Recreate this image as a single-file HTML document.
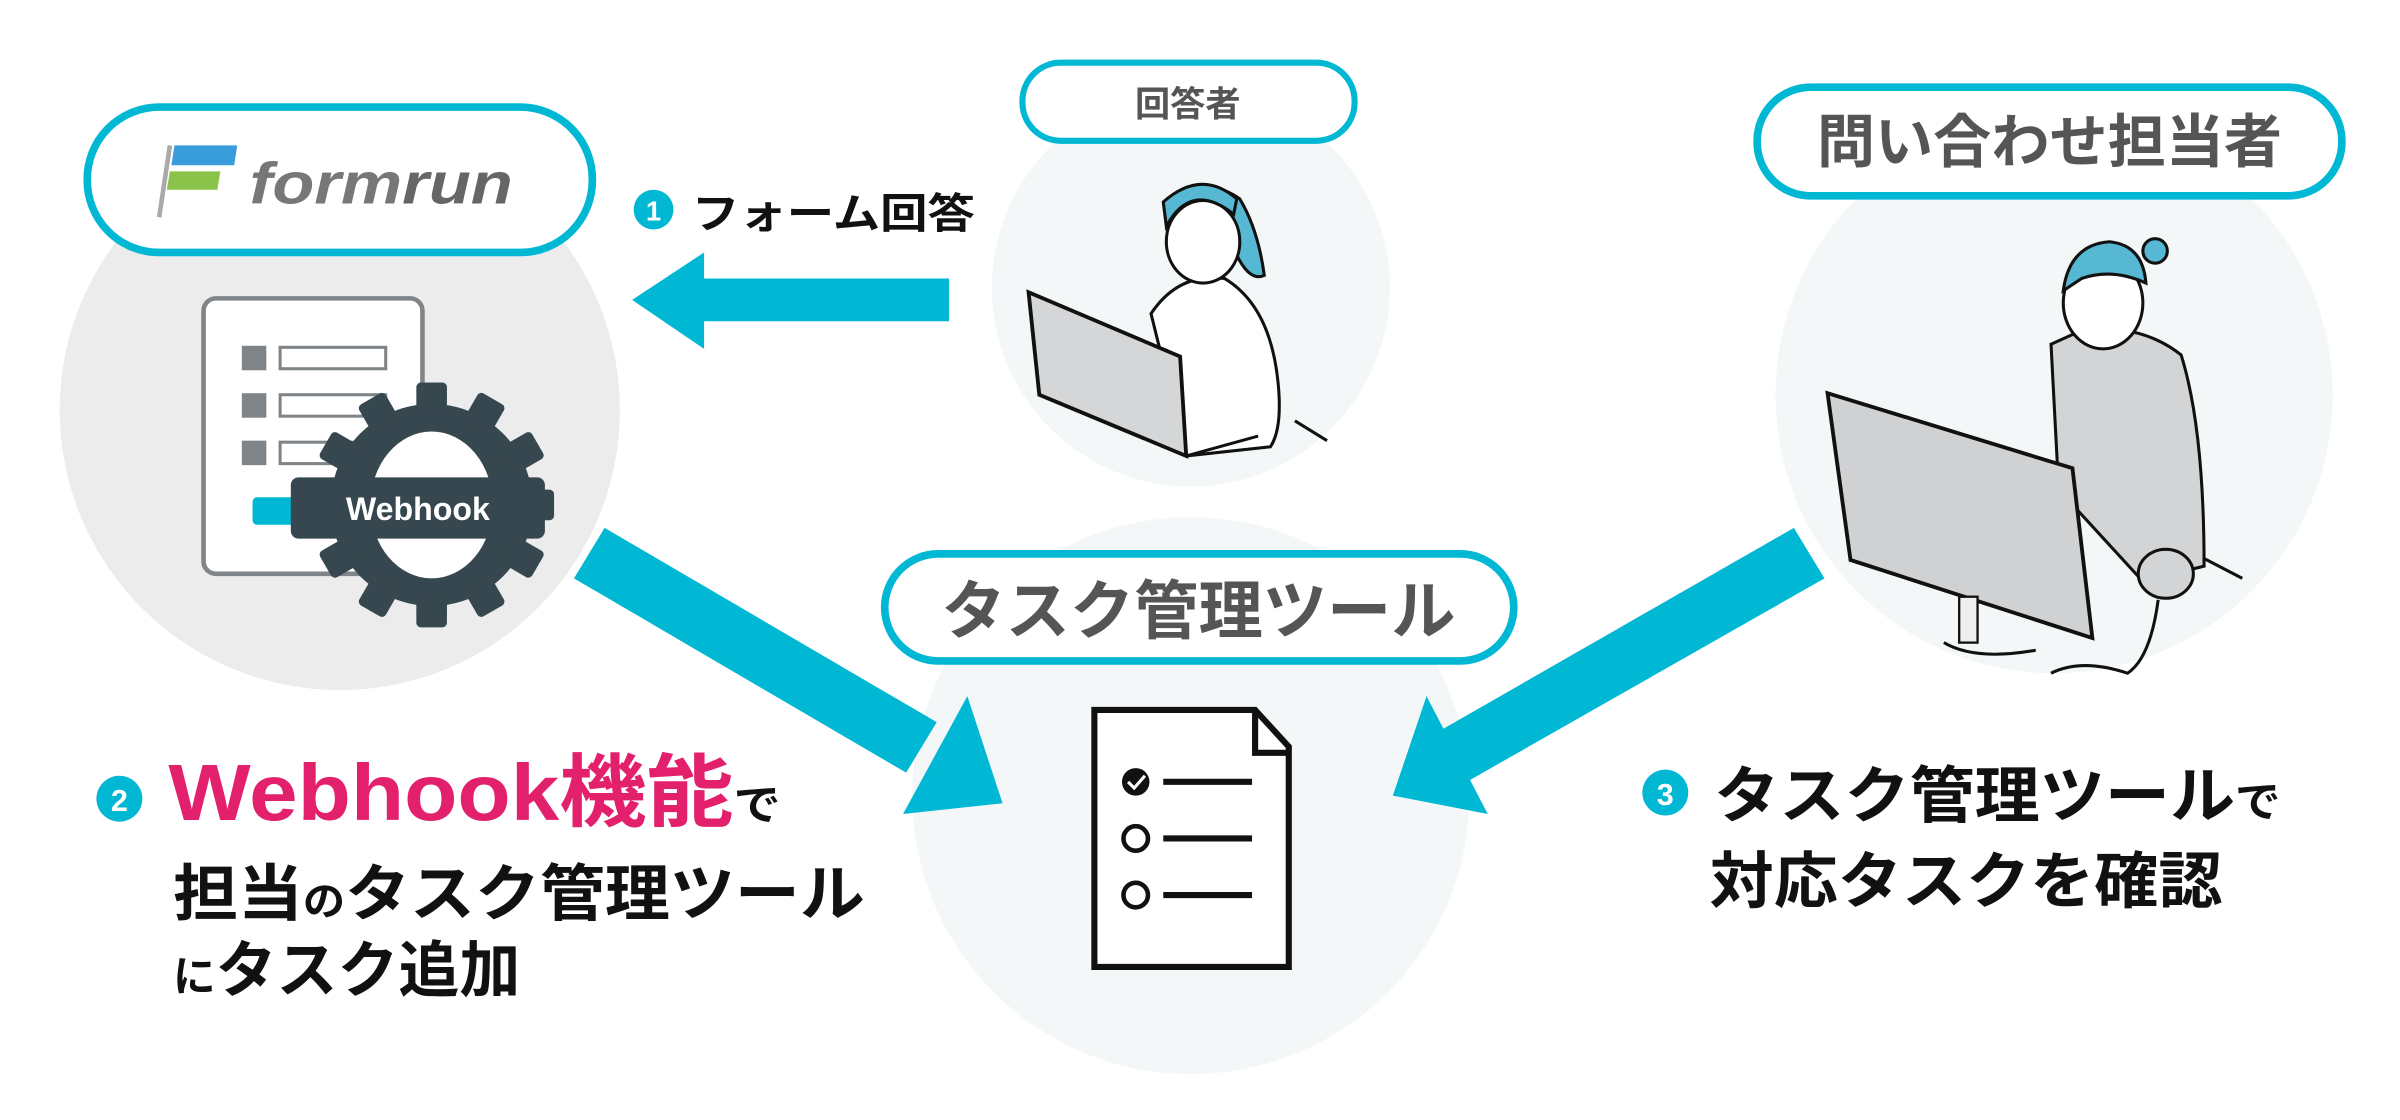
<!DOCTYPE html>
<html><head><meta charset="utf-8"><style>
html,body{margin:0;padding:0;background:#fff;}
svg{display:block}
text{font-family:"Liberation Sans","Noto Sans CJK JP",sans-serif;font-weight:bold}
</style></head><body>
<svg width="2400" height="1120" viewBox="0 0 1568 732" preserveAspectRatio="none" xmlns="http://www.w3.org/2000/svg">
<circle cx="222" cy="268" r="183" fill="#ececec"/>
<circle cx="778" cy="188" r="130" fill="#f3f7f8"/>
<circle cx="1342" cy="258" r="182" fill="#f3f7f8"/>
<circle cx="778" cy="520" r="182" fill="#f3f7f8"/>

<polygon points="460,182 620,182 620,210 460,210 460,228 413,196 460,165" fill="#00b8d4"/>
<polygon points="375,378 395,345 612,472 592,505" fill="#00b8d4"/>
<polygon points="632,455 590,532 655,525" fill="#00b8d4"/>
<polygon points="1172,345 1192,378 960,510 940,478" fill="#00b8d4"/>
<polygon points="932,455 972,532 910,520" fill="#00b8d4"/>

<rect x="57" y="70" width="330" height="95" rx="47" fill="#fff" stroke="#00b8d4" stroke-width="5"/>
<rect x="668" y="41" width="217" height="51" rx="25" fill="#fff" stroke="#00b8d4" stroke-width="4"/>
<rect x="1148" y="57" width="382" height="71" rx="35" fill="#fff" stroke="#00b8d4" stroke-width="5"/>
<rect x="578" y="362" width="411" height="70" rx="35" fill="#fff" stroke="#00b8d4" stroke-width="5"/>

<line x1="111" y1="95" x2="104" y2="142" stroke="#aaa" stroke-width="3"/>
<polygon points="114,95 155,95 153,108 112,108" fill="#3a9ddb"/>
<polygon points="111,112 144,112 142,124 109,124" fill="#8bc34a"/>
<text x="163" y="133" font-size="38" fill="#777" font-weight="normal" style="font-style:italic" textLength="172" lengthAdjust="spacingAndGlyphs">form<tspan font-weight="bold" fill="#666">run</tspan></text>

<text x="776" y="76" font-size="23" fill="#555" text-anchor="middle">回答者</text>
<text x="1339" y="106" font-size="38" fill="#555" text-anchor="middle">問い合わせ担当者</text>
<text x="783" y="414" font-size="42" fill="#555" text-anchor="middle">タスク管理ツール</text>

<circle cx="427" cy="137" r="13" fill="#00b8d4"/>
<text x="427" y="144" font-size="18" fill="#fff" text-anchor="middle">1</text>
<text x="452" y="149" font-size="27" fill="#111" textLength="185" lengthAdjust="spacingAndGlyphs">フォーム回答</text>

<rect x="133" y="195" width="143" height="180" rx="8" fill="#fff" stroke="#808589" stroke-width="3"/>
<rect x="158" y="226" width="16" height="16" fill="#7f8489"/>
<rect x="183" y="227" width="69" height="14" fill="#fff" stroke="#7f8489" stroke-width="2"/>
<rect x="158" y="257" width="16" height="16" fill="#7f8489"/>
<rect x="183" y="258" width="69" height="14" fill="#fff" stroke="#7f8489" stroke-width="2"/>
<rect x="158" y="288" width="16" height="16" fill="#7f8489"/>
<rect x="183" y="289" width="69" height="14" fill="#fff" stroke="#7f8489" stroke-width="2"/>
<rect x="165" y="325" width="50" height="18" rx="3" fill="#00b8d4"/>
<g fill="#37474f" transform="translate(282,330)">
<circle r="66"/>
<g id="t"><rect x="-10" y="-80" width="20" height="22" rx="3"/></g>
<use href="#t" transform="rotate(30)"/><use href="#t" transform="rotate(60)"/><use href="#t" transform="rotate(90)"/>
<use href="#t" transform="rotate(120)"/><use href="#t" transform="rotate(150)"/><use href="#t" transform="rotate(180)"/>
<use href="#t" transform="rotate(210)"/><use href="#t" transform="rotate(240)"/><use href="#t" transform="rotate(270)"/>
<use href="#t" transform="rotate(300)"/><use href="#t" transform="rotate(330)"/>
<ellipse rx="40" ry="48" fill="#fff"/>
</g>
<rect x="190" y="312" width="166" height="40" rx="5" fill="#37474f"/>
<text x="273" y="340" font-size="21" fill="#fff" text-anchor="middle">Webhook</text>

<!-- person 1 -->
<path d="M752,205 Q770,178 800,182 Q830,200 835,250 Q838,280 830,292 L775,298 Z" fill="#fff" stroke="#111" stroke-width="2"/>
<path d="M765,140 Q785,112 810,130 Q822,150 826,180 Q815,185 805,160 Z" fill="#56b8d3" stroke="#111" stroke-width="2"/>
<ellipse cx="786" cy="158" rx="24" ry="27" fill="#fff" stroke="#111" stroke-width="2"/>
<path d="M762,148 Q778,118 806,140 L808,130 Q785,110 760,132 Z" fill="#56b8d3" stroke="#111" stroke-width="2"/>
<polygon points="672,191 771,233 775,298 679,258" fill="#d5d6d7" stroke="#111" stroke-width="2.5"/>
<line x1="775" y1="298" x2="822" y2="285" stroke="#111" stroke-width="2"/>
<line x1="846" y1="275" x2="867" y2="288" stroke="#111" stroke-width="2"/>

<!-- person 2 -->
<path d="M1340,225 L1362,215 Q1400,212 1425,232 Q1440,280 1440,370 L1400,380 L1345,320 Z" fill="#d3d4d6" stroke="#111" stroke-width="2"/>
<ellipse cx="1374" cy="198" rx="26" ry="30" fill="#fff" stroke="#111" stroke-width="2"/>
<path d="M1348,190 Q1352,160 1378,158 Q1400,160 1402,185 Q1380,175 1360,182 Z" fill="#56b8d3" stroke="#111" stroke-width="2"/>
<circle cx="1408" cy="164" r="8" fill="#56b8d3" stroke="#111" stroke-width="2"/>
<polygon points="1194,257 1354,306 1367,417 1209,366" fill="#d0d1d3" stroke="#111" stroke-width="2.5"/>
<rect x="1280" y="390" width="12" height="30" fill="#eee" stroke="#111" stroke-width="1.5"/>
<path d="M1270,420 Q1290,432 1330,425" fill="none" stroke="#111" stroke-width="2"/>
<ellipse cx="1415" cy="375" rx="18" ry="16" fill="#d3d4d6" stroke="#111" stroke-width="2"/>
<path d="M1410,392 Q1405,430 1390,440 Q1360,430 1340,440" fill="none" stroke="#111" stroke-width="2"/>
<line x1="1440" y1="365" x2="1465" y2="378" stroke="#111" stroke-width="2"/>

<path d="M715,464 L820,464 L842,488 L842,632 L715,632 Z" fill="#fff" stroke="#111" stroke-width="4"/>
<path d="M820,464 L820,492 L842,492" fill="none" stroke="#111" stroke-width="4"/>
<circle cx="742" cy="511" r="9" fill="#111"/>
<path d="M737,511 L741,515 L748,507" fill="none" stroke="#fff" stroke-width="2"/>
<line x1="760" y1="511" x2="818" y2="511" stroke="#111" stroke-width="4"/>
<circle cx="742" cy="548" r="8" fill="#fff" stroke="#111" stroke-width="3"/>
<line x1="760" y1="548" x2="818" y2="548" stroke="#111" stroke-width="4"/>
<circle cx="742" cy="585" r="8" fill="#fff" stroke="#111" stroke-width="3"/>
<line x1="760" y1="585" x2="818" y2="585" stroke="#111" stroke-width="4"/>

<circle cx="78" cy="522" r="15" fill="#00b8d4"/>
<text x="78" y="530" font-size="20" fill="#fff" text-anchor="middle">2</text>
<text x="110" y="536" font-size="52" fill="#e3206b" textLength="400" lengthAdjust="spacingAndGlyphs">Webhook機能<tspan font-size="28" fill="#111">で</tspan></text>
<text x="113" y="598" font-size="40" fill="#111" textLength="452" lengthAdjust="spacingAndGlyphs">担当<tspan font-size="26">の</tspan>タスク管理ツール</text>
<text x="113" y="648" font-size="40" fill="#111" textLength="227" lengthAdjust="spacingAndGlyphs"><tspan font-size="28">に</tspan>タスク追加</text>

<circle cx="1088" cy="518" r="15" fill="#00b8d4"/>
<text x="1088" y="526" font-size="20" fill="#fff" text-anchor="middle">3</text>
<text x="1120" y="534" font-size="40" fill="#111" textLength="370" lengthAdjust="spacingAndGlyphs">タスク管理ツール<tspan font-size="28">で</tspan></text>
<text x="1117" y="590" font-size="40" fill="#111" textLength="335" lengthAdjust="spacingAndGlyphs">対応タスクを確認</text>
</svg>
</body></html>
